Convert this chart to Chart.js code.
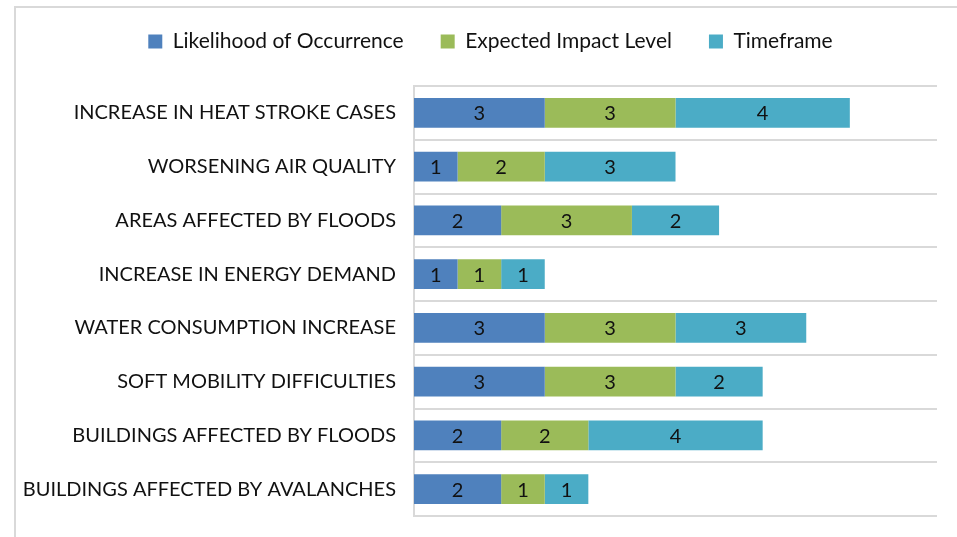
<!DOCTYPE html>
<html>
<head>
<meta charset="utf-8">
<script src="https://cdn.jsdelivr.net/npm/chart.js@4"></script>
<style>
  body { margin: 0; background: #fff; }
  #wrap { position: relative; width: 957px; height: 537px; overflow: hidden; }
  #frame { position: absolute; left: 14px; top: 6px; width: 960px; height: 540px; border: 2px solid #d9d9d9; }
  #riskChart { position: absolute; left: 0; top: -6px; }
</style>
</head>
<body>
<div id="wrap">
  <div id="frame"></div>
  <canvas id="riskChart" width="957" height="543"></canvas>
</div>
<script>
const categories = [
  'INCREASE IN HEAT STROKE CASES',
  'WORSENING AIR QUALITY',
  'AREAS AFFECTED BY FLOODS',
  'INCREASE IN ENERGY DEMAND',
  'WATER CONSUMPTION INCREASE',
  'SOFT MOBILITY DIFFICULTIES',
  'BUILDINGS AFFECTED BY FLOODS',
  'BUILDINGS AFFECTED BY AVALANCHES'
];
const likelihood = [3, 1, 2, 1, 3, 3, 2, 2];
const impact = [3, 2, 3, 1, 3, 3, 2, 1];
const timeframe = [4, 3, 2, 1, 3, 2, 4, 1];

const FONT = 'Lato, "Liberation Sans", sans-serif';

// draws the number in the middle of each bar segment
const barLabels = {
  id: 'barLabels',
  afterDatasetsDraw(chart) {
    const ctx = chart.ctx;
    ctx.save();
    ctx.font = '20px ' + FONT;
    ctx.fillStyle = '#111';
    ctx.textAlign = 'center';
    ctx.textBaseline = 'middle';
    chart.data.datasets.forEach((ds, i) => {
      chart.getDatasetMeta(i).data.forEach((bar, j) => {
        const p = bar.getProps(['x', 'y', 'base'], true);
        ctx.fillText(ds.data[j], (p.x + p.base) / 2, p.y + 1);
      });
    });
    ctx.restore();
  }
};

// legend in the original sits a bit right of the canvas centre
const legendShift = {
  id: 'legendShift',
  afterLayout(chart) {
    chart.legend.left += 22;
    chart.legend.right += 22;
  }
};

const ctx = document.getElementById('riskChart').getContext('2d');

const chart = new Chart(ctx, {
  type: 'bar',
  data: {
    labels: categories,
    datasets: [
      { label: 'Likelihood of Occurrence', data: likelihood, backgroundColor: '#4f81bd' },
      { label: 'Expected Impact Level', data: impact, backgroundColor: '#9bbb59' },
      { label: 'Timeframe', data: timeframe, backgroundColor: '#4bacc6' }
    ]
  },
  options: {
    indexAxis: 'y',
    responsive: false,
    animation: false,
    datasets: {
      bar: { categoryPercentage: 1, barPercentage: 0.55 }
    },
    layout: { padding: { left: 0, right: 20, top: 0, bottom: 21 } },
    scales: {
      x: {
        stacked: true,
        position: 'top',
        min: 0,
        max: 12,
        grid: { display: false },
        border: { display: false },
        ticks: { display: false },
        afterFit(scale) { scale.height = 24; }
      },
      y: {
        stacked: true,
        grid: { color: '#d9d9d9', lineWidth: 2, drawTicks: false },
        border: { color: '#d9d9d9', width: 2 },
        ticks: {
          color: '#111',
          padding: 18,
          font: { family: FONT, size: 20 }
        },
        afterFit(scale) {
          scale.width = 414;
          scale.paddingTop = 0;
          scale.paddingBottom = 0;
        }
      }
    },
    plugins: {
      legend: {
        position: 'top',
        labels: {
          color: '#111',
          boxWidth: 14,
          boxHeight: 14,
          padding: 37,
          font: { family: FONT, size: 21 }
        }
      },
      tooltip: { enabled: false }
    }
  },
  plugins: [barLabels, legendShift]
});
</script>
</body>
</html>
